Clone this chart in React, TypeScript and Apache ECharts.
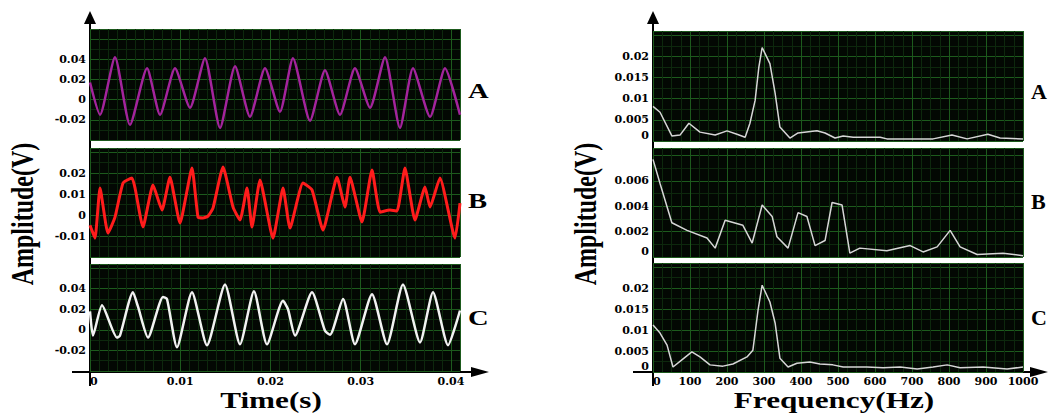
import React, { useEffect, useRef } from 'react';
import * as echarts from 'echarts';

// ---------- tick labels ----------
const timeTickLabels = [0, 0.01, 0.02, 0.03, 0.04];
const freqTickLabels = [0, 100, 200, 300, 400, 500, 600, 700, 800, 900, 1000];
const yTicksTimeA = [-0.02, 0, 0.02, 0.04];
const yTicksTimeB = [-0.01, 0, 0.01, 0.02];
const yTicksTimeC = [-0.02, 0, 0.02, 0.04];
const yTicksFreqA = [0, 0.005, 0.01, 0.015, 0.02];
const yTicksFreqB = [0, 0.002, 0.004, 0.006];
const yTicksFreqC = [0, 0.005, 0.01, 0.015, 0.02];
const panelLetters = ['A', 'B', 'C'];

// ---------- time-domain signals (s, V) ----------
const timeA = [0, 0.00111, 0.00277, 0.00443, 0.00632, 0.00776, 0.00942, 0.01108, 0.01274, 0.01441, 0.01607, 0.01773, 0.01939, 0.02105, 0.02249, 0.02438, 0.02604, 0.0277, 0.02936, 0.03103, 0.03269, 0.03435, 0.03579, 0.03768, 0.03934, 0.041];
const ampA = [0.017, -0.015, 0.042, -0.025, 0.031, -0.015, 0.031, -0.008, 0.041, -0.028, 0.033, -0.017, 0.031, -0.012, 0.041, -0.021, 0.029, -0.015, 0.031, -0.008, 0.042, -0.028, 0.031, -0.017, 0.031, -0.015];

const timeB = [0, 0.00055, 0.00111, 0.00199, 0.00277, 0.00366, 0.00465, 0.00499, 0.00587, 0.00698, 0.00798, 0.00886, 0.00997, 0.0113, 0.01197, 0.01252, 0.01308, 0.01363, 0.01474, 0.01585, 0.01662, 0.0174, 0.01795, 0.01884, 0.02028, 0.02139, 0.02216, 0.0236, 0.0246, 0.02582, 0.02737, 0.02826, 0.02881, 0.03014, 0.03125, 0.03214, 0.03324, 0.03402, 0.0349, 0.03601, 0.03712, 0.03768, 0.03878, 0.04045, 0.041];
const ampB = [-0.0048, -0.011, 0.0129, -0.0086, -0.001, 0.0153, 0.0177, 0.0129, -0.0057, 0.0143, 0.0024, 0.018, -0.0038, 0.0224, -0.001, -0.0014, -0.0005, 0.0033, 0.0229, 0.0038, -0.0024, 0.0129, -0.0057, 0.0167, -0.011, 0.0129, -0.0062, 0.0153, 0.012, -0.0072, 0.018, 0.0038, 0.018, -0.0033, 0.0215, 0.0014, 0.0024, 0.002, 0.0224, -0.0024, 0.0134, 0.0038, 0.0177, -0.011, 0.0057];

const timeC = [0, 0.00033, 0.00133, 0.00299, 0.00332, 0.00476, 0.00532, 0.00643, 0.00809, 0.00853, 0.00964, 0.0113, 0.01296, 0.01496, 0.01662, 0.01817, 0.01961, 0.02139, 0.02194, 0.02272, 0.0246, 0.02604, 0.0266, 0.02804, 0.02936, 0.03125, 0.03291, 0.03468, 0.03657, 0.03801, 0.03967, 0.041];
const ampC = [0.018, -0.0056, 0.024, -0.0075, -0.0056, 0.0366, 0.0225, -0.0075, 0.0319, 0.03, -0.0169, 0.0366, -0.015, 0.0441, -0.0141, 0.0376, -0.0141, 0.0282, 0.02, -0.0056, 0.0366, -0.0009, -0.0047, 0.03, -0.0141, 0.0347, -0.0141, 0.0441, -0.0122, 0.0366, -0.015, 0.0188];

// ---------- spectra (Hz, V) ----------
const freqA = [0, 19, 51, 73, 97, 127, 168, 200, 227, 249, 262, 276, 286, 295, 316, 330, 343, 370, 392, 443, 465, 492, 514, 541, 614, 632, 757, 808, 849, 905, 938, 1000];
const magA = [0.0082, 0.0068, 0.0012, 0.0014, 0.0042, 0.0021, 0.0014, 0.0024, 0.0016, 0.0009, 0.0042, 0.0096, 0.0174, 0.0221, 0.0183, 0.0113, 0.0033, 0.0007, 0.0019, 0.0024, 0.0019, 0.0007, 0.0012, 0.0009, 0.0009, 0.0005, 0.0005, 0.0014, 0.0005, 0.0016, 0.0007, 0.0005];

const freqB = [0, 19, 51, 92, 146, 168, 195, 243, 268, 295, 322, 335, 365, 392, 416, 438, 465, 484, 511, 532, 559, 632, 695, 730, 768, 803, 830, 876, 946, 1000];
const magB = [0.0077, 0.0058, 0.0027, 0.0021, 0.0015, 0.0007, 0.0029, 0.0025, 0.0011, 0.0041, 0.0032, 0.0016, 0.0007, 0.0035, 0.0032, 0.0009, 0.0013, 0.0043, 0.0041, 0.0003, 0.0007, 0.0005, 0.0009, 0.0004, 0.0008, 0.0021, 0.0008, 0.0002, 0.0003, 0.0001];

const freqC = [0, 19, 38, 54, 78, 105, 127, 154, 189, 216, 254, 270, 284, 295, 316, 330, 343, 365, 389, 424, 451, 486, 514, 578, 622, 668, 714, 757, 795, 830, 892, 957, 1000];
const magC = [0.0112, 0.0093, 0.0064, 0.0012, 0.0029, 0.0048, 0.0036, 0.0017, 0.0014, 0.0019, 0.0036, 0.0052, 0.0148, 0.0207, 0.0167, 0.0117, 0.0033, 0.0012, 0.0021, 0.0024, 0.0019, 0.0017, 0.0012, 0.0012, 0.001, 0.0012, 0.0007, 0.0012, 0.0017, 0.001, 0.0012, 0.0007, 0.0012];

const pairs = (xs: number[], ys: number[]) => xs.map((x, i) => [x, ys[i]]);

const tickFmt = (allowed: number[]) => (v: number) => {
  const hit = allowed.find((a) => Math.abs(a - v) < 1e-9);
  return hit === undefined ? '' : String(hit);
};

const BG = '#030803';
const MAJOR = '#1d5a1d';
const MINOR = '#0d280d';
const TICK_FONT = { fontFamily: 'DejaVu Serif', fontWeight: 'bold' as const, fontSize: 11, color: '#000' };
const SERIF = 'Liberation Serif';

export default function App() {
  const ref = useRef<HTMLDivElement>(null);

  useEffect(() => {
    if (!ref.current) return;
    const chart = echarts.init(ref.current, undefined, { renderer: 'svg' });

    const grids = [
      { left: 90, top: 29, width: 370, height: 111 },
      { left: 90, top: 148, width: 370, height: 109 },
      { left: 90, top: 264, width: 370, height: 107 },
      { left: 653, top: 31, width: 370, height: 110 },
      { left: 653, top: 148, width: 370, height: 109 },
      { left: 653, top: 263, width: 370, height: 109 },
    ].map((g) => ({ ...g, show: true, backgroundColor: BG, borderWidth: 0, containLabel: false, outerBoundsMode: 'none' }));

    const xAxis = (gridIndex: number, isTime: boolean, showLabels: boolean) => ({
      type: 'value',
      gridIndex,
      min: 0,
      max: isTime ? 0.041 : 1000,
      interval: isTime ? 0.01 : 100,
      axisLine: { show: false },
      axisTick: { show: false },
      axisLabel: {
        show: showLabels,
        ...TICK_FONT,
        margin: isTime ? 5 : 4,
        alignMinLabel: 'left',
        formatter: tickFmt(isTime ? timeTickLabels : freqTickLabels),
      },
      splitLine: { show: true, lineStyle: { color: MAJOR, width: 1 } },
      minorTick: { show: false, splitNumber: isTime ? 10 : 4 },
      minorSplitLine: { show: true, lineStyle: { color: MINOR, width: 1 } },
    });

    const yAxis = (gridIndex: number, min: number, max: number, interval: number, labels: number[], alignBottom: boolean) => ({
      type: 'value',
      gridIndex,
      min,
      max,
      interval,
      axisLine: { show: false },
      axisTick: { show: false },
      axisLabel: {
        ...TICK_FONT,
        margin: 4,
        verticalAlignMinLabel: alignBottom ? 'bottom' : undefined,
        formatter: tickFmt(labels),
      },
      splitLine: { show: true, lineStyle: { color: MAJOR, width: 1 } },
      minorTick: { show: false, splitNumber: 2 },
      minorSplitLine: { show: true, lineStyle: { color: MINOR, width: 1 } },
    });

    const lineSeries = (idx: number, data: number[][], color: string, width: number, smooth: number) => ({
      type: 'line',
      xAxisIndex: idx,
      yAxisIndex: idx,
      data,
      smooth,
      showSymbol: false,
      symbol: 'none',
      lineStyle: { color, width },
      silent: true,
    });

    const axisGraphics = (ax: number, xLeft: number, xEnd: number) => [
      { type: 'line', shape: { x1: ax, y1: 22, x2: ax, y2: 386 }, style: { stroke: '#000', lineWidth: 2 } },
      { type: 'polygon', shape: { points: [[ax - 6, 24], [ax + 6, 24], [ax, 11]] }, style: { fill: '#000' } },
      { type: 'line', shape: { x1: xLeft, y1: 372, x2: xEnd - 14, y2: 372 }, style: { stroke: '#000', lineWidth: 2 } },
      { type: 'polygon', shape: { points: [[xEnd - 18, 367], [xEnd - 18, 377], [xEnd, 372]] }, style: { fill: '#000' } },
    ];

    const panelTopLines = [
      [90, 29], [90, 148], [90, 264], [653, 31], [653, 148], [653, 263],
    ].map(([x, y]) => ({
      type: 'line', shape: { x1: x + 1, y1: y + 0.5, x2: x + 370, y2: y + 0.5 }, style: { stroke: '#6a6a6a', lineWidth: 1 },
    }));

    const letterYsLeft = [90.5, 201, 318];
    const letterYsRight = [91.5, 201, 317];
    const letters = [
      ...panelLetters.map((t, i) => ({ x: 468, y: letterYsLeft[i], t, s: 1.3 })),
      ...panelLetters.map((t, i) => ({ x: 1031, y: letterYsRight[i], t, s: 1.0 })),
    ].map((l) => ({
      type: 'text',
      x: l.x,
      y: l.y,
      scaleX: l.s,
      style: {
        text: l.t, fontFamily: SERIF, fontWeight: 'bold', fontSize: 22, fill: '#000',
        textAlign: 'left', textVerticalAlign: 'middle', align: 'left', verticalAlign: 'middle',
      },
    }));

    const title = (text: string, x: number, y: number, rotate: boolean) => ({
      type: 'text',
      x,
      y,
      rotation: rotate ? Math.PI / 2 : 0,
      scaleX: rotate ? 1 : 1.3,
      scaleY: rotate ? 1.3 : 1,
      style: {
        text, fontFamily: SERIF, fontWeight: 'bold', fontSize: 24, fill: '#000',
        textAlign: 'center', textVerticalAlign: 'middle', align: 'center', verticalAlign: 'middle',
      },
    });

    chart.setOption({
      animation: false,
      backgroundColor: '#fff',
      grid: grids,
      xAxis: [
        xAxis(0, true, false), xAxis(1, true, false), xAxis(2, true, true),
        xAxis(3, false, false), xAxis(4, false, false), xAxis(5, false, true),
      ],
      yAxis: [
        yAxis(0, -0.04, 0.07, 0.02, yTicksTimeA, false),
        yAxis(1, -0.02, 0.032, 0.01, yTicksTimeB, false),
        yAxis(2, -0.04, 0.064, 0.02, yTicksTimeC, false),
        yAxis(3, 0, 0.026, 0.005, yTicksFreqA, true),
        yAxis(4, 0, 0.0086, 0.002, yTicksFreqB, true),
        yAxis(5, 0, 0.026, 0.005, yTicksFreqC, true),
      ],
      series: [
        lineSeries(0, pairs(timeA, ampA), '#a3249c', 2.5, 0.2),
        lineSeries(1, pairs(timeB, ampB), '#ff1c1c', 3, 0.15),
        lineSeries(2, pairs(timeC, ampC), '#f2f2f2', 2.5, 0.2),
        lineSeries(3, pairs(freqA, magA), '#d6d6d6', 1.5, 0),
        lineSeries(4, pairs(freqB, magB), '#d6d6d6', 1.5, 0),
        lineSeries(5, pairs(freqC, magC), '#d6d6d6', 1.5, 0),
      ],
      graphic: [
        ...panelTopLines,
        ...axisGraphics(90, 72, 489),
        ...axisGraphics(653, 633, 1048),
        ...letters,
        title('Time(s)', 271, 400, false),
        title('Frequency(Hz)', 834, 400, false),
        title('Amplitude(V)', 22.5, 214, true),
        title('Amplitude(V)', 585, 214, true),
      ],
    });

    return () => chart.dispose();
  }, []);

  return <div ref={ref} style={{ position: 'absolute', left: 0, top: 0, width: 1048, height: 419 }} />;
}
